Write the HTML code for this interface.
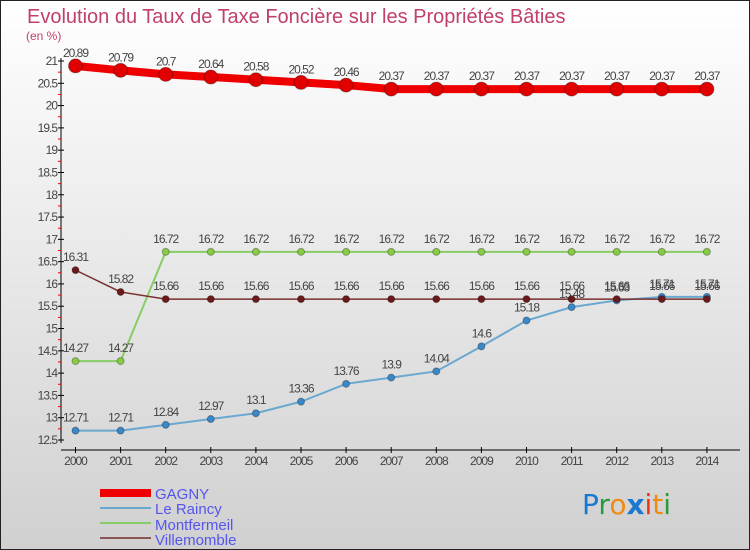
<!DOCTYPE html>
<html><head><meta charset="utf-8"><style>
body{margin:0;width:750px;height:550px;overflow:hidden}
svg{display:block;font-family:"Liberation Sans",sans-serif}
</style></head><body>
<svg id="c" width="750" height="550">
<defs><linearGradient id="bg" x1="0" y1="0" x2="0" y2="1"><stop offset="0" stop-color="#ffffff"/><stop offset="1" stop-color="#d0d0d0"/></linearGradient></defs>
<rect x="0.5" y="0.5" width="749" height="549" fill="url(#bg)" stroke="#222"/>
<text x="27" y="23" font-size="20" fill="#c0406a">Evolution du Taux de Taxe Foncière sur les Propriétés Bâties</text>
<text x="26" y="40" font-size="12" fill="#c0406a">(en %)</text>
<g id="axes"></g><g id="series"></g>
<g>
<rect x="100" y="489" width="51" height="8" fill="#ee0000"/>
<text x="155" y="499" font-size="15" fill="#5555ee">GAGNY</text>
<line x1="100" y1="508" x2="151" y2="508" stroke="#6aa8d0" stroke-width="2"/>
<text x="155" y="514" font-size="15" fill="#5555ee">Le Raincy</text>
<line x1="100" y1="523" x2="151" y2="523" stroke="#88cc66" stroke-width="2"/>
<text x="155" y="530" font-size="15" fill="#5555ee">Montfermeil</text>
<line x1="100" y1="538" x2="151" y2="538" stroke="#8a5555" stroke-width="2"/>
<text x="155" y="545" font-size="15" fill="#5555ee">Villemomble</text>
</g>
<text x="582" y="514" font-size="28" font-family="DejaVu Sans"><tspan fill="#1a78d0">P</tspan><tspan fill="#2a9a3a">r</tspan><tspan fill="#f08a10">o</tspan><tspan fill="#1a78d0" font-weight="bold">x</tspan><tspan fill="#ee3311">i</tspan><tspan fill="#f08a10">t</tspan><tspan fill="#2a9a3a">i</tspan></text>
</svg>
<script>
const years=[2000,2001,2002,2003,2004,2005,2006,2007,2008,2009,2010,2011,2012,2013,2014];
const gagny=[20.89,20.79,20.7,20.64,20.58,20.52,20.46,20.37,20.37,20.37,20.37,20.37,20.37,20.37,20.37];
const raincy=[12.71,12.71,12.84,12.97,13.1,13.36,13.76,13.9,14.04,14.6,15.18,15.48,15.63,15.71,15.71];
const montfermeil=[14.27,14.27,16.72,16.72,16.72,16.72,16.72,16.72,16.72,16.72,16.72,16.72,16.72,16.72,16.72];
const villemomble=[16.31,15.82,15.66,15.66,15.66,15.66,15.66,15.66,15.66,15.66,15.66,15.66,15.66,15.66,15.66];
const yTicks=[12.5,13,13.5,14,14.5,15,15.5,16,16.5,17,17.5,18,18.5,19,19.5,20,20.5,21];
const NS='http://www.w3.org/2000/svg';
const X=i=>75.5+i*45.1, Y=v=>440-(v-12.5)*(379/8.5);
function mk(t,a,p){const e=document.createElementNS(NS,t);for(const k in a)e.setAttribute(k,a[k]);p.appendChild(e);return e;}
const ax=document.getElementById('axes');
let yl=mk('line',{x1:61,y1:58,x2:61,y2:443,stroke:'#000'},ax);


yTicks.forEach(v=>{mk('line',{x1:58,y1:Y(v),x2:64,y2:Y(v),stroke:'#000'},ax);
 if(v<21)mk('line',{x1:58,y1:Y(v+0.25),x2:61,y2:Y(v+0.25),stroke:'#e00'},ax);
 const t=mk('text',{x:57,y:Y(v)+4,'font-size':12,'text-anchor':'end',fill:'#444','letter-spacing':'-1'},ax);t.textContent=String(v);
 
 });
let xl=mk('line',{x1:61,y1:450,x2:740,y2:450,stroke:'#000'},ax);


years.forEach((y,i)=>{mk('line',{x1:X(i),y1:447,x2:X(i),y2:453,stroke:'#000'},ax);
 const t=mk('text',{x:X(i),y:465,'font-size':12,'text-anchor':'middle',fill:'#444','letter-spacing':'-1'},ax);t.textContent=y;
 
 });
const sg=document.getElementById('series');
function series(name,data,color,w,r,fill){
 const g=mk('g',{},sg);
 
 
 mk('polyline',{points:data.map((v,i)=>X(i)+','+Y(v)).join(' '),fill:'none',stroke:color,'stroke-width':w},g);
 data.forEach((v,i)=>{const c=mk('circle',{cx:X(i),cy:Y(v),r:r,fill:fill,stroke:'rgba(0,0,0,0.3)'},g);
  
  
  const t=mk('text',{x:X(i),y:Y(v)-9,'font-size':12,'text-anchor':'middle',fill:'#444','letter-spacing':'-1'},g);t.textContent=String(v);
  
  });
}
series('gagny',gagny,'#ee0000',8,7,'#e00000');
series('montfermeil',montfermeil,'#88cc66',2,3.5,'#88cc44');
series('le-raincy',raincy,'#6aa8d0',2,3.5,'#3a88c8');
series('villemomble',villemomble,'#7a3030',1.5,3.5,'#6a1a1a');
</script>
</body></html>
